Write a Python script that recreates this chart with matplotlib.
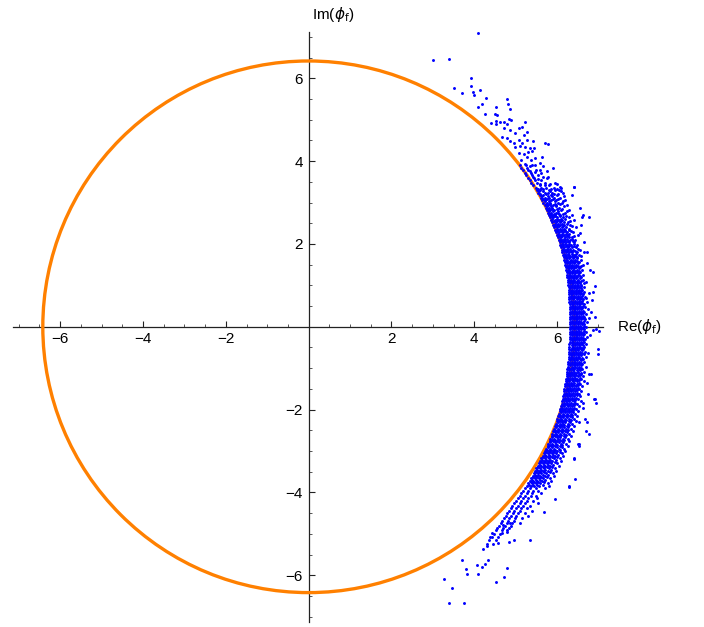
import matplotlib
matplotlib.use("Agg")
import matplotlib.pyplot as plt
from matplotlib.patches import Circle
from matplotlib.ticker import MultipleLocator, FixedLocator

plt.rcParams['font.family'] = ['Liberation Sans', 'DejaVu Sans']
plt.rcParams['mathtext.fontset'] = 'dejavusans'

# ---- data ----
radius = 6.42
major_ticks = [-6, -4, -2, 2, 4, 6]
x_label = r'Re($\phi_{\rm f}$)'
y_label = r'Im($\phi_{\rm f}$)'

# dense band, read row by row (y of row, x values in row)
band_row_y = [3.90, 3.84, 3.78, 3.72, 3.66, 3.60, 3.54, 3.48, 3.42,
              3.36, 3.30, 3.24, 3.18, 3.12, 3.06, 3.00, 2.94, 2.88, 2.82, 2.76,
              2.70, 2.64, 2.58, 2.52, 2.46, 2.40, 2.34, 2.28, 2.22, 2.16,
              2.10, 2.04, 1.98, 1.92, 1.86, 1.80, 1.74, 1.68, 1.62, 1.56,
              1.50, 1.44, 1.38, 1.32, 1.26, 1.20, 1.14, 1.08, 1.02, 0.96,
              0.90, 0.84, 0.78, 0.72, 0.66, 0.60, 0.54, 0.48, 0.42, 0.36,
              0.30, 0.24, 0.18, 0.12, 0.06, 0.00, -0.06, -0.12, -0.18, -0.24,
              -0.30, -0.36, -0.42, -0.48, -0.54, -0.60, -0.66, -0.72, -0.78, -0.84,
              -0.90, -0.96, -1.02, -1.08, -1.14, -1.20, -1.26, -1.32, -1.38, -1.44,
              -1.50, -1.56, -1.62, -1.68, -1.74, -1.80, -1.86, -1.92, -1.98, -2.04,
              -2.10, -2.16, -2.22, -2.28, -2.34, -2.40, -2.46, -2.52, -2.58, -2.64,
              -2.70, -2.76, -2.82, -2.88, -2.94, -3.00, -3.06, -3.12, -3.18, -3.24,
              -3.30, -3.36, -3.42, -3.48, -3.54, -3.60, -3.66, -3.72, -3.78, -3.84,
              -3.90, -3.96, -4.02, -4.08, -4.14, -4.20, -4.26, -4.32, -4.38, -4.44,
              -4.50, -4.56, -4.62, -4.68, -4.74, -4.80, -4.86, -4.92, -5.00, -5.08,
              -5.16, -5.24]
band_row_x = [
    [5.10, 5.25, 5.40], [5.14, 5.27], [5.18, 5.30, 5.48], [5.22, 5.36, 5.62],
    [5.26, 5.40, 5.55], [5.30, 5.45, 5.75], [5.34, 5.47, 5.62], [5.38, 5.52, 5.70, 5.95],
    [5.42, 5.58, 5.80],
    [5.48, 5.62, 5.74, 5.93, 6.10], [5.52, 5.60, 5.81, 5.95, 6.05],
    [5.55, 5.70, 5.78, 5.88, 6.14], [5.58, 5.66, 5.85, 5.99, 6.36],
    [5.61, 5.72, 5.80, 5.92, 6.08], [5.64, 5.70, 5.86, 5.97, 6.20],
    [5.67, 5.76, 5.83, 6.02, 6.12], [5.70, 5.79, 5.90, 5.98, 6.25],
    [5.73, 5.81, 5.88, 6.05, 6.55], [5.75, 5.84, 5.93, 6.10, 6.28],
    [5.78, 5.86, 5.97, 6.03, 6.20], [5.81, 5.88, 5.95, 6.08, 6.35, 6.62],
    [5.83, 5.91, 6.00, 6.14, 6.30], [5.86, 5.94, 6.04, 6.12, 6.40],
    [5.88, 5.97, 6.06, 6.18, 6.27], [5.91, 5.99, 6.08, 6.16, 6.32, 6.58],
    [5.93, 6.01, 6.11, 6.22, 6.45], [5.95, 6.03, 6.12, 6.19, 6.30],
    [5.98, 6.05, 6.14, 6.24, 6.38], [6.00, 6.08, 6.16, 6.27, 6.50],
    [6.02, 6.10, 6.19, 6.29, 6.36], [6.04, 6.12, 6.20, 6.31, 6.44],
    [6.06, 6.14, 6.22, 6.30, 6.42, 6.66], [6.08, 6.15, 6.24, 6.34, 6.48],
    [6.10, 6.17, 6.26, 6.36, 6.45], [6.12, 6.19, 6.27, 6.38, 6.55],
    [6.13, 6.21, 6.29, 6.37, 6.47, 6.72], [6.15, 6.22, 6.30, 6.41, 6.52],
    [6.16, 6.24, 6.32, 6.40, 6.49], [6.18, 6.25, 6.33, 6.43, 6.58],
    [6.19, 6.27, 6.35, 6.44, 6.53], [6.20, 6.28, 6.36, 6.46, 6.62],
    [6.21, 6.29, 6.37, 6.45, 6.55], [6.22, 6.30, 6.38, 6.48, 6.60, 6.80],
    [6.23, 6.31, 6.39, 6.47, 6.56], [6.24, 6.32, 6.40, 6.50, 6.63],
    [6.25, 6.33, 6.41, 6.49, 6.58], [6.26, 6.34, 6.42, 6.51, 6.62],
    [6.27, 6.35, 6.43, 6.52, 6.70], [6.27, 6.35, 6.43, 6.50, 6.59],
    [6.28, 6.36, 6.44, 6.53, 6.64], [6.28, 6.36, 6.45, 6.54, 6.61],
    [6.29, 6.37, 6.45, 6.53, 6.66, 6.88], [6.29, 6.37, 6.46, 6.55, 6.62],
    [6.30, 6.38, 6.46, 6.56, 6.68], [6.30, 6.38, 6.47, 6.55, 6.63],
    [6.30, 6.39, 6.47, 6.57, 6.72], [6.31, 6.39, 6.48, 6.56, 6.64],
    [6.31, 6.39, 6.48, 6.58, 6.67], [6.31, 6.40, 6.48, 6.57, 6.75],
    [6.31, 6.40, 6.49, 6.58, 6.65], [6.32, 6.40, 6.49, 6.59, 6.70],
    [6.32, 6.40, 6.49, 6.58, 6.66, 6.92], [6.32, 6.41, 6.49, 6.59, 6.68],
    [6.32, 6.41, 6.50, 6.58, 6.73], [6.32, 6.41, 6.50, 6.60, 6.66],
    [6.32, 6.41, 6.50, 6.59, 6.70], [6.32, 6.41, 6.50, 6.58, 6.66, 6.95],
    [6.32, 6.40, 6.49, 6.59, 6.69], [6.32, 6.40, 6.49, 6.58, 6.65],
    [6.31, 6.40, 6.49, 6.59, 6.72], [6.31, 6.40, 6.48, 6.58, 6.67],
    [6.31, 6.39, 6.48, 6.57, 6.64], [6.30, 6.39, 6.48, 6.58, 6.70],
    [6.30, 6.39, 6.47, 6.56, 6.66], [6.30, 6.38, 6.47, 6.57, 6.63, 6.98],
    [6.29, 6.38, 6.46, 6.55, 6.68], [6.29, 6.37, 6.46, 6.56, 6.64],
    [6.28, 6.37, 6.45, 6.54, 6.71], [6.28, 6.36, 6.45, 6.55, 6.62],
    [6.27, 6.36, 6.44, 6.53, 6.66], [6.27, 6.35, 6.44, 6.54, 6.61],
    [6.26, 6.35, 6.43, 6.52, 6.69], [6.25, 6.34, 6.42, 6.53, 6.60],
    [6.25, 6.33, 6.42, 6.51, 6.64], [6.24, 6.32, 6.41, 6.52, 6.59, 6.82],
    [6.23, 6.32, 6.40, 6.50, 6.62], [6.22, 6.31, 6.39, 6.49, 6.57],
    [6.21, 6.30, 6.38, 6.48, 6.66], [6.20, 6.29, 6.37, 6.47, 6.56],
    [6.19, 6.28, 6.36, 6.46, 6.61], [6.18, 6.27, 6.35, 6.45, 6.54],
    [6.17, 6.26, 6.34, 6.44, 6.58], [6.16, 6.25, 6.33, 6.43, 6.52, 6.75],
    [6.15, 6.24, 6.32, 6.42, 6.55], [6.14, 6.22, 6.31, 6.41, 6.50, 6.90],
    [6.12, 6.21, 6.30, 6.40, 6.57], [6.11, 6.20, 6.28, 6.38, 6.48],
    [6.09, 6.18, 6.27, 6.37, 6.53], [6.08, 6.17, 6.26, 6.36, 6.46],
    [6.06, 6.15, 6.24, 6.34, 6.50], [6.04, 6.14, 6.23, 6.33, 6.44],
    [6.03, 6.12, 6.21, 6.31, 6.48], [6.01, 6.10, 6.19, 6.30, 6.40, 6.68],
    [5.99, 6.08, 6.17, 6.28, 6.45], [5.97, 6.06, 6.15, 6.26, 6.37],
    [5.95, 6.04, 6.13, 6.24, 6.42], [5.93, 6.02, 6.11, 6.22, 6.34],
    [5.91, 6.00, 6.09, 6.20, 6.38, 6.70], [5.89, 5.98, 6.07, 6.18, 6.30],
    [5.87, 5.96, 6.05, 6.16, 6.34], [5.84, 5.93, 6.03, 6.14, 6.26],
    [5.82, 5.91, 6.00, 6.11, 6.30], [5.79, 5.88, 5.98, 6.09, 6.22, 6.50],
    [5.77, 5.86, 5.95, 6.06, 6.26], [5.74, 5.83, 5.93, 6.04, 6.17],
    [5.71, 5.80, 5.90, 6.01, 6.20], [5.68, 5.77, 5.87, 5.98, 6.12],
    [5.65, 5.74, 5.84, 5.95, 6.15], [5.62, 5.71, 5.81, 5.92, 6.06, 6.40],
    [5.59, 5.68, 5.78, 5.89, 6.10], [5.56, 5.65, 5.75, 5.86, 6.00],
    [5.53, 5.62, 5.72, 5.83, 6.04], [5.50, 5.59, 5.69, 5.80, 5.95],
    [5.47, 5.56, 5.66, 5.77, 5.98], [5.44, 5.53, 5.62, 5.74, 5.90],
    [5.41, 5.50, 5.59, 5.70, 5.92], [5.37, 5.46, 5.56, 5.67, 5.84],
    [5.34, 5.43, 5.52, 5.63, 5.86], [5.30, 5.40, 5.49, 5.60, 5.78],
    [5.27, 5.36, 5.45, 5.56, 5.80],
    [5.22, 5.35, 5.48, 5.70], [5.18, 5.30, 5.41, 5.55], [5.14, 5.27, 5.40, 5.62],
    [5.10, 5.22, 5.36, 5.48], [5.05, 5.18, 5.30, 5.52], [5.00, 5.14, 5.27, 5.42],
    [4.96, 5.10, 5.22, 5.55], [4.92, 5.05, 5.18, 5.35], [4.88, 5.00, 5.14, 5.28],
    [4.84, 4.97, 5.10, 5.40], [4.80, 4.93, 5.06, 5.22], [4.76, 4.90, 5.02, 5.30],
    [4.72, 4.85, 4.98, 5.15], [4.68, 4.82, 4.95], [4.64, 4.78, 4.92, 5.10],
    [4.60, 4.74, 4.88], [4.56, 4.70, 4.85], [4.52, 4.66, 4.80],
    [4.47, 4.62], [4.42, 4.58], [4.36, 4.52], [4.30, 4.45],
]

# second, interleaved set of band rows (fills the dense core)
core_row_y = [3.33, 3.27, 3.21, 3.15, 3.09, 3.03, 2.97, 2.91, 2.85, 2.79,
              2.73, 2.67, 2.61, 2.55, 2.49, 2.43, 2.37, 2.31, 2.25, 2.19,
              2.13, 2.07, 2.01, 1.95, 1.89, 1.83, 1.77, 1.71, 1.65, 1.59,
              1.53, 1.47, 1.41, 1.35, 1.29, 1.23, 1.17, 1.11, 1.05, 0.99,
              0.93, 0.87, 0.81, 0.75, 0.69, 0.63, 0.57, 0.51, 0.45, 0.39,
              0.33, 0.27, 0.21, 0.15, 0.09, 0.03, -0.03, -0.09, -0.15, -0.21,
              -0.27, -0.33, -0.39, -0.45, -0.51, -0.57, -0.63, -0.69, -0.75, -0.81,
              -0.87, -0.93, -0.99, -1.05, -1.11, -1.17, -1.23, -1.29, -1.35, -1.41,
              -1.47, -1.53, -1.59, -1.65, -1.71, -1.77, -1.83, -1.89, -1.95, -2.01,
              -2.07, -2.13, -2.19, -2.25, -2.31, -2.37, -2.43, -2.49, -2.55, -2.61,
              -2.67, -2.73, -2.79, -2.85, -2.91, -2.97, -3.03, -3.09, -3.15, -3.21,
              -3.27, -3.33, -3.39, -3.45, -3.51, -3.57, -3.63, -3.69, -3.75, -3.81]
core_row_x = [
    # 3.33 .. 2.79
    [5.53, 5.66, 5.86, 6.00], [5.57, 5.65, 5.83, 6.10],
    [5.60, 5.74, 5.92, 6.02], [5.63, 5.77, 5.88, 6.18],
    [5.66, 5.76, 5.91, 6.03], [5.70, 5.80, 5.94, 6.15],
    [5.73, 5.84, 5.95, 6.07], [5.76, 5.85, 5.97, 6.18],
    [5.78, 5.87, 6.00, 6.12], [5.80, 5.91, 6.02, 6.24],
    # 2.73 .. 2.19
    [5.84, 5.92, 6.04, 6.15], [5.87, 5.96, 6.06, 6.22],
    [5.89, 5.99, 6.09, 6.20], [5.92, 6.01, 6.10, 6.31],
    [5.94, 6.03, 6.13, 6.24], [5.96, 6.05, 6.15, 6.36],
    [5.99, 6.07, 6.17, 6.28], [6.01, 6.09, 6.19, 6.33],
    [6.03, 6.11, 6.21, 6.30], [6.05, 6.13, 6.23, 6.41],
    # 2.13 .. 1.59
    [6.07, 6.16, 6.25, 6.35], [6.09, 6.18, 6.26, 6.38],
    [6.11, 6.19, 6.28, 6.40], [6.13, 6.21, 6.30, 6.42],
    [6.15, 6.23, 6.32, 6.50], [6.16, 6.25, 6.33, 6.43],
    [6.18, 6.26, 6.35, 6.46], [6.20, 6.28, 6.36, 6.44, 6.57],
    [6.21, 6.29, 6.38, 6.47], [6.22, 6.31, 6.39, 6.49],
    # 1.53 .. 0.99
    [6.24, 6.32, 6.40, 6.51], [6.25, 6.33, 6.41, 6.50, 6.58],
    [6.26, 6.34, 6.42, 6.52], [6.27, 6.35, 6.43, 6.53],
    [6.28, 6.36, 6.44, 6.54], [6.29, 6.37, 6.45, 6.55],
    [6.30, 6.38, 6.46, 6.56], [6.31, 6.39, 6.47, 6.57],
    [6.31, 6.39, 6.47, 6.56, 6.65], [6.32, 6.40, 6.48, 6.57],
    # 0.93 .. 0.39
    [6.32, 6.40, 6.49, 6.58], [6.33, 6.41, 6.50, 6.59],
    [6.33, 6.41, 6.50, 6.58], [6.34, 6.42, 6.51, 6.60],
    [6.34, 6.42, 6.51, 6.59, 6.70], [6.34, 6.43, 6.52, 6.61],
    [6.35, 6.43, 6.52, 6.60], [6.35, 6.44, 6.53, 6.62],
    [6.35, 6.44, 6.53, 6.61], [6.36, 6.44, 6.53, 6.62],
    # 0.33 .. -0.21
    [6.36, 6.45, 6.54, 6.63], [6.36, 6.45, 6.54, 6.62],
    [6.36, 6.45, 6.54, 6.63, 6.78], [6.37, 6.45, 6.54, 6.64],
    [6.37, 6.45, 6.55, 6.63], [6.37, 6.46, 6.55, 6.64],
    [6.37, 6.46, 6.55, 6.63], [6.37, 6.45, 6.54, 6.64],
    [6.36, 6.45, 6.54, 6.63], [6.36, 6.45, 6.54, 6.62, 6.80],
    # -0.27 .. -0.81
    [6.36, 6.45, 6.53, 6.63], [6.36, 6.44, 6.53, 6.62],
    [6.35, 6.44, 6.53, 6.61], [6.35, 6.44, 6.52, 6.62],
    [6.35, 6.43, 6.52, 6.60], [6.34, 6.43, 6.51, 6.61],
    [6.34, 6.42, 6.51, 6.60, 6.74], [6.33, 6.42, 6.50, 6.59],
    [6.33, 6.41, 6.50, 6.60], [6.32, 6.41, 6.49, 6.58],
    # -0.87 .. -1.41
    [6.32, 6.40, 6.49, 6.59], [6.31, 6.40, 6.48, 6.57],
    [6.30, 6.39, 6.47, 6.58], [6.30, 6.38, 6.47, 6.56],
    [6.29, 6.37, 6.46, 6.57], [6.28, 6.36, 6.45, 6.55],
    [6.27, 6.36, 6.44, 6.56], [6.26, 6.35, 6.43, 6.53],
    [6.25, 6.34, 6.42, 6.52, 6.72], [6.24, 6.33, 6.41, 6.51],
    # -1.47 .. -2.01
    [6.23, 6.32, 6.40, 6.50], [6.22, 6.31, 6.39, 6.49],
    [6.21, 6.30, 6.38, 6.48], [6.20, 6.29, 6.37, 6.47],
    [6.19, 6.27, 6.36, 6.45], [6.17, 6.26, 6.35, 6.44],
    [6.16, 6.25, 6.34, 6.43, 6.62], [6.14, 6.23, 6.32, 6.42],
    [6.13, 6.22, 6.31, 6.41], [6.11, 6.20, 6.29, 6.39],
    # -2.07 .. -2.61
    [6.09, 6.19, 6.28, 6.38], [6.08, 6.17, 6.26, 6.36],
    [6.06, 6.15, 6.24, 6.35], [6.04, 6.13, 6.22, 6.33],
    [6.02, 6.11, 6.20, 6.31, 6.52], [6.00, 6.09, 6.18, 6.29],
    [5.98, 6.07, 6.16, 6.27], [5.96, 6.05, 6.14, 6.26],
    [5.94, 6.03, 6.12, 6.24], [5.92, 6.01, 6.10, 6.22],
    # -2.67 .. -3.21
    [5.89, 5.99, 6.08, 6.20], [5.87, 5.96, 6.06, 6.18],
    [5.84, 5.94, 6.04, 6.15], [5.82, 5.91, 6.01, 6.13],
    [5.79, 5.89, 5.99, 6.11], [5.76, 5.86, 5.96, 6.08],
    [5.73, 5.83, 5.93, 6.06], [5.70, 5.80, 5.90, 6.03],
    [5.67, 5.77, 5.87, 6.00], [5.64, 5.74, 5.84, 5.97],
    # -3.27 .. -3.81
    [5.61, 5.71, 5.81, 5.94], [5.58, 5.68, 5.78, 5.91],
    [5.55, 5.65, 5.75, 5.88], [5.52, 5.62, 5.72, 5.85],
    [5.49, 5.58, 5.69, 5.82], [5.46, 5.55, 5.65, 5.79],
    [5.42, 5.52, 5.62, 5.75], [5.39, 5.48, 5.58, 5.72],
    [5.36, 5.45, 5.55, 5.68], [5.32, 5.41, 5.51, 5.65],
]

# sparse points above the band
upper_x = [4.09, 3.01, 3.39, 3.93, 3.50, 3.70, 3.91, 3.96, 4.00, 4.14,
           4.29, 4.79, 4.81, 4.53, 4.18, 4.09, 4.87, 4.26, 4.50, 4.55,
           4.41, 4.53, 4.63, 4.73, 4.83, 4.89, 4.53, 4.80, 5.23, 4.71,
           4.87, 5.07, 5.15, 4.99, 5.27, 4.68, 4.79, 5.19, 4.87, 4.95,
           5.07, 5.15, 5.27, 5.41, 4.99, 5.11, 5.23, 5.35, 5.45, 5.71,
           5.79, 5.07, 5.19, 5.31, 5.39, 5.13, 5.27, 5.37, 5.47, 5.63,
           5.23, 5.35, 5.47, 5.58, 5.67, 5.91, 5.35, 5.47, 5.59, 5.75,
           5.43, 5.55, 5.67, 5.79, 5.59, 5.71, 5.83, 6.00, 6.07, 6.40]
upper_y = [7.09, 6.44, 6.47, 6.02, 5.76, 5.65, 5.82, 5.68, 5.60, 5.72,
           5.53, 5.49, 5.38, 5.30, 5.38, 5.30, 5.26, 5.14, 5.15, 5.11,
           4.93, 4.98, 4.95, 4.95, 5.01, 4.99, 4.89, 4.91, 4.95, 4.79,
           4.75, 4.79, 4.83, 4.67, 4.71, 4.59, 4.57, 4.63, 4.49, 4.44,
           4.51, 4.43, 4.51, 4.49, 4.35, 4.36, 4.35, 4.33, 4.31, 4.44,
           4.41, 4.20, 4.17, 4.23, 4.25, 4.04, 4.09, 4.03, 4.07, 4.09,
           3.93, 3.88, 3.91, 3.95, 3.88, 3.83, 3.77, 3.74, 3.79, 3.77,
           3.62, 3.58, 3.61, 3.62, 3.46, 3.42, 3.46, 3.46, 3.37, 3.37]

# sparse points below the band
lower_x = [3.70, 4.06, 4.18, 4.26, 4.34, 3.80, 3.82, 4.08, 4.79, 4.73,
           4.52, 3.27, 3.46, 3.40, 3.76, 5.35, 4.22, 4.30, 4.38, 4.43,
           4.58, 4.67, 4.83, 4.95, 4.70, 4.79, 4.87, 5.69, 5.95, 6.30]
lower_y = [-5.64, -5.76, -5.80, -5.74, -5.64, -5.86, -5.98, -5.98, -5.82, -6.04,
           -6.17, -6.10, -6.32, -6.67, -6.68, -5.15, -5.37, -5.30, -5.07, -4.99,
           -5.22, -4.99, -5.19, -5.14, -4.79, -4.95, -4.75, -4.47, -4.17, -3.85]

# outliers on the outer side of the band
fringe_x = [6.42, 6.76, 6.60, 6.56, 6.88, 6.92, 6.65, 6.72, 6.82, 6.84,
            6.78, 7.02, 6.88, 6.98, 6.76, 6.92, 6.94, 6.72, 6.78, 6.62,
            6.54, 6.44, 6.28, 6.41, 6.52]
fringe_y = [3.37, 2.66, 2.64, 2.26, 1.33, 0.98, 1.81, 1.53, 0.36, 0.64,
            0.82, -0.10, -0.08, -0.66, -1.13, -1.75, -1.85, -2.29, -2.58, -1.95,
            -2.82, -3.68, -3.86, -3.20, -2.87]

# ---- assemble points ----
pts_x, pts_y = [], []
for rows_y, rows_x in ((band_row_y, band_row_x), (core_row_y, core_row_x)):
    for yv, xs in zip(rows_y, rows_x):
        for xv in xs:
            pts_x.append(xv)
            pts_y.append(yv)
pts_x += upper_x + lower_x + fringe_x
pts_y += upper_y + lower_y + fringe_y

# ---- figure ----
W, H = 704, 627
fig = plt.figure(figsize=(W / 100, H / 100), dpi=100)
ax = fig.add_axes([13 / W, 5 / H, 590 / W, 590 / H])
ax.set_xlim(-7.14, 7.11)
ax.set_ylim(-7.13, 7.12)

ax.add_patch(Circle((0, 0), radius, fill=False, edgecolor='#FF8000',
                    linewidth=2.4, zorder=3))
ax.scatter(pts_x, pts_y, s=4.5, c='#0000FF', linewidths=0, zorder=4)

for side in ('top', 'right'):
    ax.spines[side].set_visible(False)
for side in ('left', 'bottom'):
    ax.spines[side].set_position(('data', 0))
    ax.spines[side].set_color('#222222')
    ax.spines[side].set_linewidth(0.9)

ax.xaxis.set_major_locator(FixedLocator(major_ticks))
ax.yaxis.set_major_locator(FixedLocator(major_ticks))
ax.xaxis.set_minor_locator(MultipleLocator(0.5))
ax.yaxis.set_minor_locator(MultipleLocator(0.5))
ax.set_xticklabels([f'\u2212{abs(t)}' if t < 0 else str(t) for t in major_ticks])
ax.set_yticklabels([f'\u2212{abs(t)}' if t < 0 else str(t) for t in major_ticks])
ax.tick_params(which='major', direction='in', length=4.5, width=0.8,
               color='#222222', labelsize=11, pad=4)
ax.tick_params(which='minor', direction='in', length=2.5, width=0.7,
               color='#555555')

fig.text(617 / W, 1 - 327 / H, x_label, fontsize=11, ha='left', va='center')
fig.text(312 / W, 1 - 14 / H, y_label, fontsize=11, ha='left', va='center')

fig.savefig('out.png', dpi=100)
